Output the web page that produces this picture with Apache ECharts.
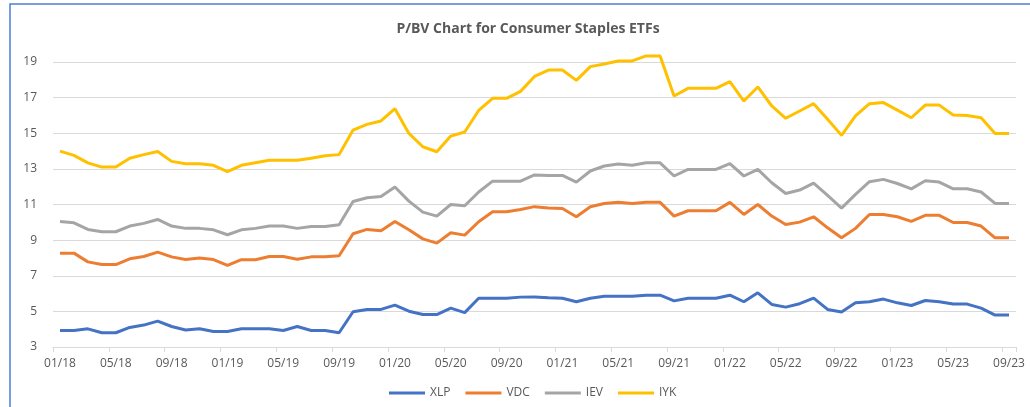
<!DOCTYPE html>
<html>
<head>
<meta charset="utf-8">
<script src="https://cdn.jsdelivr.net/npm/echarts@6/dist/echarts.min.js"></script>
<style>
  html, body { margin: 0; padding: 0; background: #fff; }
  #main { width: 1030px; height: 407px; }
</style>
</head>
<body>
<div id="main"></div>
<script>
  /* 데이터 */
  var months = ['01/18', '02/18', '03/18', '04/18', '05/18', '06/18', '07/18', '08/18', '09/18', '10/18', '11/18', '12/18',
                '01/19', '02/19', '03/19', '04/19', '05/19', '06/19', '07/19', '08/19', '09/19', '10/19', '11/19', '12/19',
                '01/20', '02/20', '03/20', '04/20', '05/20', '06/20', '07/20', '08/20', '09/20', '10/20', '11/20', '12/20',
                '01/21', '02/21', '03/21', '04/21', '05/21', '06/21', '07/21', '08/21', '09/21', '10/21', '11/21', '12/21',
                '01/22', '02/22', '03/22', '04/22', '05/22', '06/22', '07/22', '08/22', '09/22', '10/22', '11/22', '12/22',
                '01/23', '02/23', '03/23', '04/23', '05/23', '06/23', '07/23', '08/23', '09/23'];

  var xlp = [3.93, 3.93, 4.02, 3.80, 3.80, 4.10, 4.23, 4.45, 4.15, 3.95, 4.02, 3.87,
             3.87, 4.02, 4.02, 4.02, 3.93, 4.15, 3.93, 3.93, 3.80, 4.98, 5.11, 5.11,
             5.35, 5.01, 4.82, 4.82, 5.18, 4.93, 5.74, 5.74, 5.74, 5.80, 5.81, 5.76,
             5.74, 5.54, 5.74, 5.85, 5.85, 5.85, 5.91, 5.91, 5.59, 5.74, 5.74, 5.74,
             5.91, 5.54, 6.04, 5.39, 5.24, 5.43, 5.74, 5.11, 4.96, 5.48, 5.54, 5.69,
             5.48, 5.33, 5.61, 5.54, 5.41, 5.41, 5.18, 4.79, 4.79];

  var vdc = [8.27, 8.27, 7.78, 7.63, 7.63, 7.95, 8.08, 8.33, 8.06, 7.91, 7.99, 7.91,
             7.58, 7.90, 7.90, 8.08, 8.08, 7.93, 8.06, 8.06, 8.12, 9.36, 9.60, 9.52,
             10.05, 9.58, 9.07, 8.83, 9.41, 9.28, 10.03, 10.59, 10.59, 10.72, 10.88, 10.80,
             10.78, 10.31, 10.87, 11.06, 11.12, 11.06, 11.12, 11.12, 10.35, 10.65, 10.65, 10.65,
             11.12, 10.44, 11.00, 10.35, 9.88, 10.01, 10.31, 9.69, 9.13, 9.66, 10.44, 10.44,
             10.31, 10.05, 10.39, 10.39, 9.99, 9.99, 9.79, 9.13, 9.13];

  var iev = [10.05, 9.97, 9.60, 9.47, 9.47, 9.79, 9.94, 10.16, 9.79, 9.66, 9.66, 9.58,
             9.30, 9.58, 9.66, 9.79, 9.79, 9.66, 9.77, 9.77, 9.86, 11.17, 11.38, 11.45,
             11.98, 11.19, 10.57, 10.35, 11.00, 10.93, 11.70, 12.31, 12.31, 12.31, 12.66, 12.63,
             12.63, 12.26, 12.88, 13.16, 13.27, 13.20, 13.34, 13.34, 12.60, 12.97, 12.97, 12.97,
             13.29, 12.60, 12.97, 12.22, 11.62, 11.81, 12.20, 11.51, 10.80, 11.57, 12.28, 12.41,
             12.18, 11.88, 12.33, 12.26, 11.88, 11.88, 11.70, 11.06, 11.06];

  var iyk = [14.00, 13.76, 13.34, 13.10, 13.10, 13.60, 13.80, 13.98, 13.42, 13.29, 13.29, 13.20,
             12.84, 13.20, 13.34, 13.48, 13.48, 13.48, 13.60, 13.74, 13.80, 15.18, 15.50, 15.69,
             16.38, 14.99, 14.24, 13.96, 14.84, 15.07, 16.28, 16.96, 16.96, 17.35, 18.19, 18.55,
             18.55, 17.97, 18.74, 18.89, 19.06, 19.06, 19.34, 19.34, 17.09, 17.52, 17.52, 17.52,
             17.90, 16.81, 17.60, 16.53, 15.84, 16.25, 16.66, 15.78, 14.88, 15.97, 16.66, 16.72,
             16.30, 15.87, 16.58, 16.58, 16.02, 16.00, 15.87, 14.99, 14.99];

  var textColor = '#595959';
  var gridColor = '#d9d9d9';

  // 라인 시리즈 만들기
  function lineSeries(name, data, color) {
    return {
      name: name,
      type: 'line',
      data: data,
      symbol: 'none',
      clip: false,
      itemStyle: { color: color },
      lineStyle: { color: color, width: 3 }
    };
  }

  var myChart = echarts.init(document.getElementById('main'));

  var option = {
    animation: false,
    title: {
      text: 'P/BV Chart for Consumer Staples ETFs',
      left: 523,
      textAlign: 'center',
      top: 17,
      textStyle: { color: textColor, fontSize: 14, fontWeight: 'bold', fontFamily: 'Open Sans' }
    },
    legend: {
      data: ['XLP', 'VDC', 'IEV', 'IYK'],
      left: 384,
      top: 382,
      icon: 'rect',
      itemWidth: 36,
      itemHeight: 3,
      itemGap: 15,
      textStyle: { color: textColor, fontSize: 12, fontFamily: 'Open Sans' }
    },
    grid: {
      left: 53,
      right: 14,
      top: 62,
      bottom: 60,
      containLabel: false
    },
    xAxis: {
      type: 'category',
      data: months,
      boundaryGap: true,
      axisLine: { lineStyle: { color: gridColor, width: 1 } },
      axisTick: { show: true, interval: 3, length: 5, lineStyle: { color: gridColor } },
      axisLabel: { interval: 3, color: textColor, fontSize: 12, margin: 11, fontFamily: 'Open Sans' }
    },
    yAxis: {
      type: 'value',
      min: 3,
      max: 19,
      interval: 2,
      axisLine: { show: false },
      axisTick: { show: false },
      splitLine: { lineStyle: { color: gridColor, width: 1 } },
      axisLabel: { color: textColor, fontSize: 12, margin: 16, fontFamily: 'Open Sans' }
    },
    // 바깥 테두리
    graphic: [{
      type: 'rect',
      shape: { x: 10, y: 4, width: 1100, height: 500 },
      style: { fill: 'none', stroke: '#4a7fd8', lineWidth: 1.5 },
      silent: true
    }],
    series: [
      lineSeries('XLP', xlp, '#4472c4'),
      lineSeries('VDC', vdc, '#ed7d31'),
      lineSeries('IEV', iev, '#a5a5a5'),
      lineSeries('IYK', iyk, '#ffc000')
    ]
  };

  myChart.setOption(option);
</script>
</body>
</html>
